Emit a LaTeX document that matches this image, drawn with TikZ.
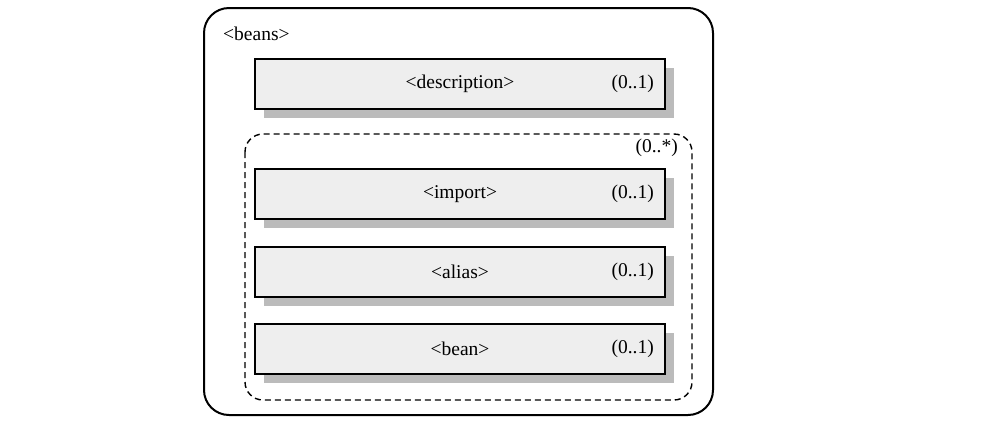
\documentclass[tikz,border=0pt]{standalone}
\usepackage{fontspec}
\setmainfont{Liberation Serif}
\begin{document}
\begin{tikzpicture}[x=1pt,y=-1pt,
  elembox/.style={draw=black,line width=2pt,fill=boxgray,minimum width=410pt,minimum height=50pt,anchor=north west,inner sep=0pt},
  shadowbox/.style={fill=shadowgray,draw=none},
  lbl/.style={font=\fontsize{19.5}{23}\selectfont,inner sep=0pt},
  ]
\definecolor{boxgray}{HTML}{EEEEEE}
\definecolor{shadowgray}{HTML}{BBBBBB}
\useasboundingbox (0,0) rectangle (981,421);
% outer
\draw[line width=2pt,rounded corners=25pt] (204,8) rectangle (713,415);
\node[lbl,anchor=base west] (beanslbl) at (223,40) {<beans>};
% dashed group
\draw[line width=1.4pt,dash pattern=on 6pt off 4pt,rounded corners=18pt] (245,134) rectangle (692,400);
\node[lbl,anchor=base east] (grpmult) at (678,152) {(0..*)};
% shadows
\foreach \yy in {58,168,246,323}{
  \fill[shadowgray] (264,\yy+10) rectangle (674,\yy+60);
}
\node[elembox] (desc) at (254,58) {};
\node[elembox] (imp) at (254,168) {};
\node[elembox] (ali) at (254,246) {};
\node[elembox] (bean) at (254,323) {};
\foreach \n/\t in {desc/{<description>},imp/{<import>},ali/{<alias>},bean/{<bean>}}{
  \node[lbl] (\n t) at (\n.center) {\t};
  \node[lbl,anchor=east] (\n m) at ([xshift=-12pt]\n.east) {(0..1)};
}
\end{tikzpicture}
\end{document}
